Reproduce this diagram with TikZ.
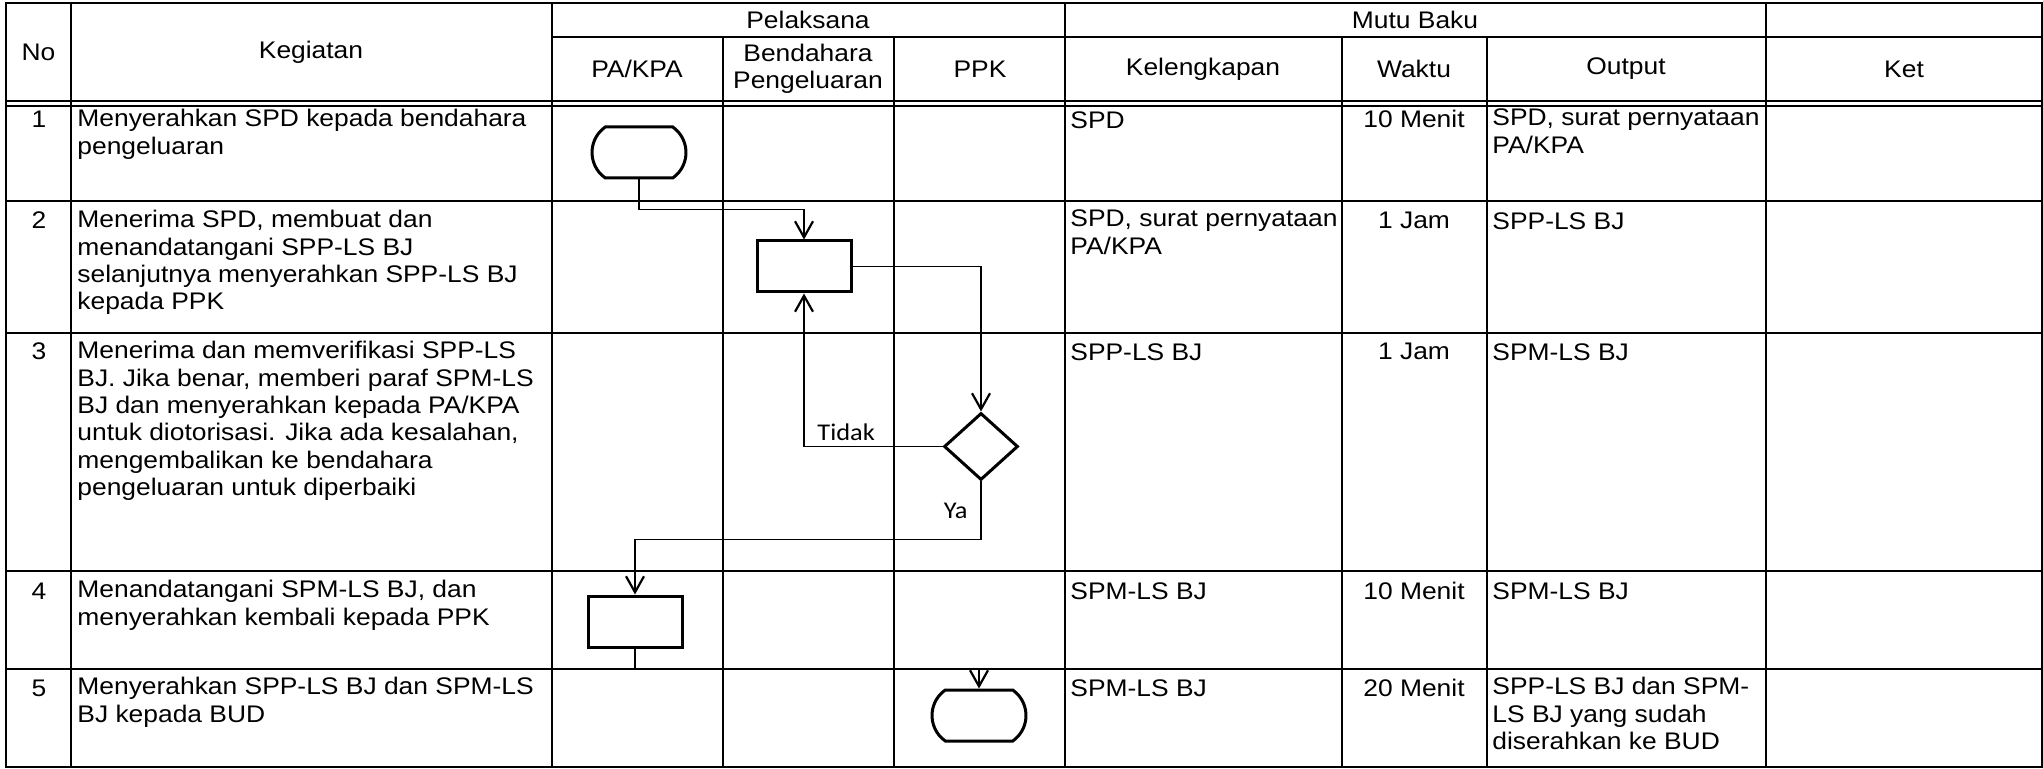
\documentclass[tikz,border=0pt]{standalone}
\usepackage{fontspec}
\setmainfont{Liberation Sans}[FakeStretch=1.1]
\newfontfamily\calibri{Carlito}[FakeStretch=1.1]
\usetikzlibrary{arrows.meta,shapes.geometric,shapes.misc}

\tikzset{
  garis/.style={line width=1.4pt},
  teks/.style={inner sep=0pt, font=\fontsize{12pt}{13.7pt}\selectfont},
  kiri/.style={teks, anchor=north west, align=left, yshift=9.59pt, execute at begin node=\strut},
  tengah/.style={teks, align=center},
  terminal/.style={rounded rectangle, rounded rectangle arc length=110, draw, line width=1.5pt,
    minimum width=47pt, minimum height=25.5pt, inner sep=0pt},
  proses/.style={rectangle, draw, line width=1.5pt, minimum width=47pt, minimum height=25.5pt, inner sep=0pt},
  keputusan/.style={diamond, draw, line width=1.5pt, minimum width=37pt, minimum height=33.5pt, inner sep=0pt},
  alur/.style={line width=0.85pt, -{Straight Barb[length=8pt,width=9pt,line width=1.1pt]}},
  lbl/.style={inner sep=0pt, font=\calibri\fontsize{12pt}{14pt}\selectfont},
}

\begin{document}
\begin{tikzpicture}[x=0.5pt, y=-0.5pt]
        \useasboundingbox (0,0) rectangle (2043,769);

        % Garis tabel
        \draw[garis] (6,3) rectangle (2042,767);
        \foreach \y in {101,201,333,571,669} \draw[garis] (6,\y) -- (2042,\y);
        \draw[line width=1.1pt] (6,106) -- (2042,106);
        \draw[garis] (552,37) -- (2042,37);
        \foreach \x in {71,552,1065,1766} \draw[garis] (\x,3) -- (\x,767);
        \foreach \x in {723,894,1342,1487} \draw[garis] (\x,37) -- (\x,767);

        % Judul kolom
        \node[tengah] (hNo) at (38.5,52) {No};
        \node[tengah] (hKeg) at (311,52) {Kegiatan};
        \node[tengah] (hPel) at (808,20) {Pelaksana};
        \node[tengah] (hMutu) at (1415,20) {Mutu Baku};
        \node[tengah] (hPA) at (637,69) {PA/KPA};
        \node[tengah] (hBend) at (808,69) {Bendahara\\Pengeluaran};
        \node[tengah] (hPPK) at (980,69) {PPK};
        \node[tengah] (hKel) at (1203,69) {Kelengkapan};
        \node[tengah] (hWkt) at (1414,69) {Waktu};
        \node[tengah] (hOut) at (1626,69) {Output};
        \node[tengah] (hKet) at (1904,69) {Ket};

        % Nomor
        \foreach \n/\y in {1/128,2/229,3/360,4/599,5/696}
          \node[teks, anchor=base] (no\n) at (39,\y) {\n};

        % Kegiatan
        \node[kiri] (keg1) at (77,128) {Menyerahkan SPD kepada bendahara\\pengeluaran};
        \node[kiri] (keg2) at (77,229) {Menerima SPD, membuat dan\\menandatangani SPP-LS BJ\\selanjutnya menyerahkan SPP-LS BJ\\kepada PPK};
        \node[kiri] (keg3) at (77,360) {Menerima dan memverifikasi SPP-LS\\BJ. Jika benar, memberi paraf SPM-LS\\BJ dan menyerahkan kepada PA/KPA\\untuk diotorisasi. Jika ada kesalahan,\\mengembalikan ke bendahara\\pengeluaran untuk diperbaiki};
        \node[kiri] (keg4) at (77,599) {Menandatangani SPM-LS BJ, dan\\menyerahkan kembali kepada PPK};
        \node[kiri] (keg5) at (77,696) {Menyerahkan SPP-LS BJ dan SPM-LS\\BJ kepada BUD};

        % Mutu baku
        \node[kiri] (kel1) at (1070,128) {SPD};
        \node[kiri] (kel2) at (1070,229) {SPD, surat pernyataan\\PA/KPA};
        \node[kiri] (kel3) at (1070,360) {SPP-LS BJ};
        \node[kiri] (kel4) at (1070,599) {SPM-LS BJ};
        \node[kiri] (kel5) at (1070,696) {SPM-LS BJ};
        \node[teks, anchor=base] (wkt1) at (1414,128) {10 Menit};
        \node[teks, anchor=base] (wkt2) at (1414,229) {1 Jam};
        \node[teks, anchor=base] (wkt3) at (1414,360) {1 Jam};
        \node[teks, anchor=base] (wkt4) at (1414,599) {10 Menit};
        \node[teks, anchor=base] (wkt5) at (1414,696) {20 Menit};
        \node[kiri] (out1) at (1492,128) {SPD, surat pernyataan\\PA/KPA};
        \node[kiri] (out2) at (1492,229) {SPP-LS BJ};
        \node[kiri] (out3) at (1492,360) {SPM-LS BJ};
        \node[kiri] (out4) at (1492,599) {SPM-LS BJ};
        \node[kiri] (out5) at (1492,696) {SPP-LS BJ dan SPM-\\LS BJ yang sudah\\diserahkan ke BUD};

        % Bagan alir
        \node[terminal] (mulai) at (639,152.5) {};
        \node[proses] (buat) at (804,266.5) {};
        \node[keputusan] (verif) at (981,446.5) {};
        \node[proses] (ttd) at (635,621.5) {};
        \node[terminal] (selesai) at (979,715.5) {};

        \draw[alur] (mulai.south) -- ++(0,30) -| (buat.north);
        \draw[alur] (buat.east) -| (verif.north);
        \draw[alur] (verif.west) -| (buat.south);
        \draw[alur] (verif.south) -- ++(0,58) -| (ttd.north);
        \draw[alur] (ttd.south) -- ++(0,21) -| (selesai.north);

        \node[lbl, anchor=base west] (tidak) at (817,441) {Tidak};
        \node[lbl, anchor=base east] (ya) at (968,518) {Ya};
\end{tikzpicture}
\end{document}
